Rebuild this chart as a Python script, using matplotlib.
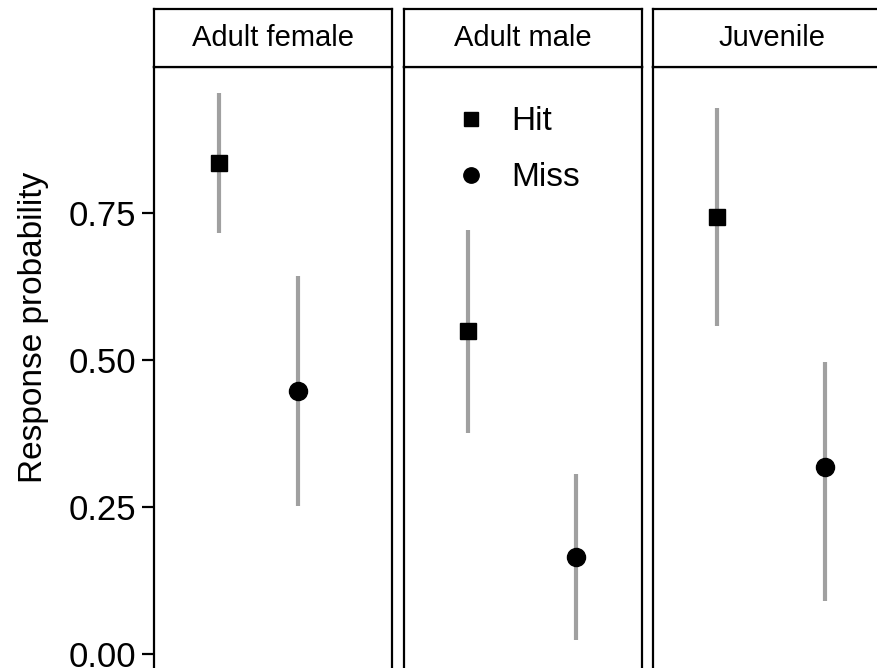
import matplotlib
matplotlib.use("Agg")
import matplotlib.pyplot as plt

plt.rcParams['font.family'] = ['Liberation Sans', 'DejaVu Sans']

panels = ['Adult female', 'Adult male', 'Juvenile']
outcomes = ['Hit', 'Miss']
# x position of each outcome within its panel (0..1)
x_pos = {'Adult female': [0.273, 0.605], 'Adult male': [0.27, 0.723], 'Juvenile': [0.27, 0.723]}
est = {'Adult female': [0.835, 0.447], 'Adult male': [0.549, 0.165], 'Juvenile': [0.743, 0.318]}
lower = {'Adult female': [0.716, 0.252], 'Adult male': [0.376, 0.024], 'Juvenile': [0.558, 0.090]}
upper = {'Adult female': [0.953, 0.643], 'Adult male': [0.721, 0.306], 'Juvenile': [0.929, 0.497]}
markers = {'Hit': 's', 'Miss': 'o'}
yticks = [0.00, 0.25, 0.50, 0.75]

W, H = 878, 668
fig = plt.figure(figsize=(W / 100, H / 100), dpi=100)

lefts = [154, 404, 653]
pw = 238
top_px, strip_px = 67, 58
ymin, ymax = -0.05, 0.998
bottom_px = 654 + (0 - ymin) * 588
ah = bottom_px - top_px

for i, (name, lx) in enumerate(zip(panels, lefts)):
    ax = fig.add_axes([lx / W, 1 - bottom_px / H, pw / W, ah / H])
    for j, oc in enumerate(outcomes):
        xx = x_pos[name][j]
        ax.plot([xx, xx], [lower[name][j], upper[name][j]], color='#a0a0a0', lw=3,
                solid_capstyle='butt', zorder=1)
        ax.plot(xx, est[name][j], marker=markers[oc], color='black', ms=12 if oc == 'Hit' else 13,
                ls='none', zorder=2, label=oc)
    ax.set_xlim(0, 1)
    ax.set_ylim(ymin, ymax)
    ax.set_xticks([])
    for s in ax.spines.values():
        s.set_linewidth(1.6)
    if i == 0:
        ax.set_yticks(yticks)
        ax.set_yticklabels([f'{v:.2f}' for v in yticks])
        ax.tick_params(axis='y', labelsize=25, length=9, width=1.6, pad=4)
        ax.set_ylabel('Response probability', fontsize=24)
        ax.yaxis.set_label_coords(-0.44, (bottom_px - 327) / ah)
    else:
        ax.set_yticks([])
    if i == 1:
        ax.legend(loc='upper left', bbox_to_anchor=(0.087, 0.985), frameon=False, fontsize=24,
                  handletextpad=0.7, labelspacing=0.75, handlelength=1.0, markerscale=0.85)

    sx = fig.add_axes([lx / W, 1 - top_px / H, pw / W, strip_px / H])
    sx.set_xticks([])
    sx.set_yticks([])
    for s in sx.spines.values():
        s.set_linewidth(1.6)
    sx.text(0.5, 0.5, name, ha='center', va='center', fontsize=21, transform=sx.transAxes)

fig.savefig('out.png', dpi=100)
